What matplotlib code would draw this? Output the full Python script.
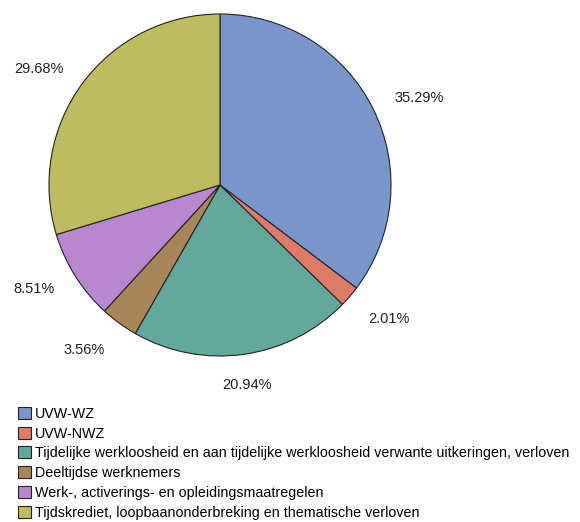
import numpy as np
import matplotlib.pyplot as plt
from matplotlib.patches import Patch

plt.rcParams['font.family'] = ['Liberation Sans', 'DejaVu Sans']

# Data
categories = [
    "UVW-WZ",
    "UVW-NWZ",
    "Tijdelijke werkloosheid en aan tijdelijke werkloosheid verwante uitkeringen, verloven",
    "Deeltijdse werknemers",
    "Werk-, activerings- en opleidingsmaatregelen",
    "Tijdskrediet, loopbaanonderbreking en thematische verloven",
]
shares = [35.29, 2.01, 20.94, 3.56, 8.51, 29.68]
colors = ["#7b96cc", "#e07b6a", "#62a89c", "#a8865a", "#b887cf", "#bdbc5e"]


def main():
    fig = plt.figure(figsize=(5.8, 5.22), dpi=100)
    # axes in pixel units so the pie sits where the reference has it
    ax = fig.add_axes([0, 0, 1, 1])
    ax.set_aspect("equal")
    ax.axis("off")

    cx, cy, r = 220, 337, 171
    wedges, texts = ax.pie(
        shares, colors=colors, startangle=90, counterclock=False,
        center=(cx, cy), radius=r,
        wedgeprops=dict(edgecolor="#222222", linewidth=0.8),
    )
    ax.set_xlim(0, 580)
    ax.set_ylim(0, 522)

    # percentage labels anchored just outside each wedge
    for w, val in zip(wedges, shares):
        ang = np.deg2rad((w.theta1 + w.theta2) / 2)
        c, s = np.cos(ang), np.sin(ang)
        ha = "left" if c > 0.3 else ("right" if c < -0.3 else "center")
        va = "top" if s < -0.6 else "center"
        ax.text(cx + 1.14 * r * c, cy + 1.14 * r * s, f"{val:.2f}%",
                ha=ha, va=va, fontsize=10.5, color="#222222")

    handles = [Patch(facecolor=c, edgecolor="#222222", linewidth=0.8) for c in colors]
    fig.legend(handles, categories, loc="upper left", bbox_to_anchor=(0.031, 0.221),
               frameon=False, fontsize=10.3, handlelength=0.92, handleheight=0.92,
               handletextpad=0.28, labelspacing=0.41, borderaxespad=0, borderpad=0)

    fig.savefig("out.png", dpi=100)


if __name__ == "__main__":
    main()
